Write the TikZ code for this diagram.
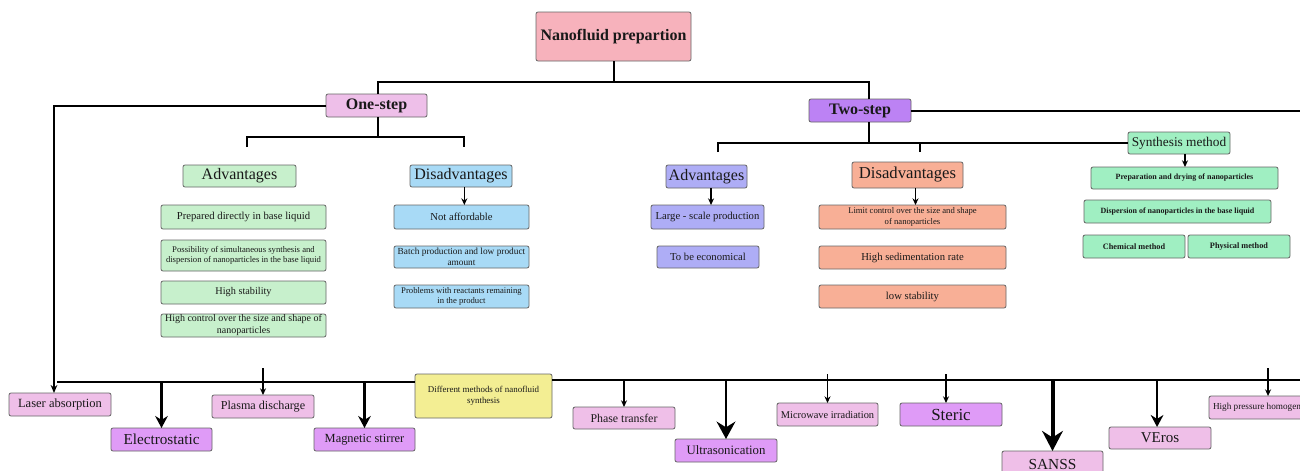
\documentclass[tikz,border=0pt]{standalone}
\usepackage{fontspec}
\setmainfont{Liberation Serif}
\usetikzlibrary{arrows.meta,calc}
\newcommand\fz[1]{\fontsize{#1}{\fpeval{#1*1.2}}\selectfont}
\newcommand\mybox[7]{\node[box,#6,minimum width={(#4-#2)*0.75pt},minimum height={(#5-#3)*0.75pt}] (#1) at ({(#2+#4)/2},{(#3+#5)/2}) {#7};}
\definecolor{titlec}{HTML}{F7B2BC}
\definecolor{onec}{HTML}{EEBFE9}
\definecolor{twoc}{HTML}{BC82F4}
\definecolor{gone}{HTML}{C7F0CC}
\definecolor{bone}{HTML}{A8DAF6}
\definecolor{ptwo}{HTML}{AEADF6}
\definecolor{otwo}{HTML}{F8AF96}
\definecolor{mint}{HTML}{A0EFC2}
\definecolor{yel}{HTML}{F3EE93}
\definecolor{lpink}{HTML}{EFBFE8}
\definecolor{dpink}{HTML}{DF9BF7}
\begin{document}
\begin{tikzpicture}[x=0.75pt,y=-0.75pt,
  box/.style={draw=black!60, line width=0.6pt, rounded corners=1.5pt, align=center, inner sep=0pt, outer sep=0pt, text=black!90},
  tree/.style={line width=1.5pt, black},
  base/.style={line width=2.2pt, black},
  thinarr/.style={line width=0.9pt, -{Stealth[length=5pt,width=4.5pt]}},
  midarr/.style={line width=1.8pt, -{Stealth[length=9pt,width=9.5pt]}},
  bigarr/.style={line width=2.2pt, -{Stealth[length=13pt,width=14pt]}},
  hugearr/.style={line width=3pt, -{Stealth[length=15pt,width=15.5pt]}}]
\fill[white] (0,0) rectangle (1300,471);
\useasboundingbox (0,0) rectangle (1300,471);
\clip (0,0) rectangle (1300,471);

% top level
\mybox{title}{536}{12}{691}{61}{fill=titlec,font=\fz{12}\bfseries}{Nanofluid prepartion}
\mybox{one}{326}{94}{427}{117}{fill=onec,font=\fz{12}\bfseries}{One-step}
\mybox{two}{809}{99}{911}{122}{fill=twoc,font=\fz{12}\bfseries}{Two-step}

% one-step branch
\mybox{adv1}{183}{165}{296}{187}{fill=gone,font=\fz{12}}{Advantages}
\mybox{dis1}{410}{165}{512}{187}{fill=bone,font=\fz{12}}{Disadvantages}
\mybox{a11}{161}{205}{326}{229}{fill=gone,font=\fz{8}}{Prepared directly in base liquid}
\mybox{a12}{161}{240}{326}{271}{fill=gone,font=\fz{6.5}}{Possibility of simultaneous synthesis and\\dispersion of nanoparticles in the base liquid}
\mybox{a13}{161}{281}{326}{304}{fill=gone,font=\fz{7.7}}{High stability}
\mybox{a14}{161}{314}{326}{337}{fill=gone,font=\fz{7.5}}{High control over the size and shape of\\nanoparticles}
\mybox{d11}{394}{205}{529}{229}{fill=bone,font=\fz{8}}{Not affordable}
\mybox{d12}{394}{246}{529}{268}{fill=bone,font=\fz{7}}{Batch production and low product\\amount}
\mybox{d13}{394}{285}{529}{308}{fill=bone,font=\fz{6.5}}{Problems with reactants remaining\\in the product}

% two-step branch
\mybox{adv2}{666}{165}{747}{188}{fill=ptwo,font=\fz{12}}{Advantages}
\mybox{a21}{651}{205}{764}{229}{fill=ptwo,font=\fz{8}}{Large - scale production}
\mybox{a22}{657}{246}{759}{268}{fill=ptwo,font=\fz{8}}{To be economical}
\mybox{dis2}{852}{162}{963}{188}{fill=otwo,font=\fz{12.5}}{Disadvantages}
\mybox{d21}{819}{205}{1006}{229}{fill=otwo,font=\fz{6.5}}{Limit control over the size and shape\\of nanoparticles}
\mybox{d22}{819}{246}{1006}{269}{fill=otwo,font=\fz{8}}{High sedimentation rate}
\mybox{d23}{819}{285}{1006}{308}{fill=otwo,font=\fz{8}}{low stability}
\mybox{syn}{1128}{132}{1230}{154}{fill=mint,font=\fz{10}}{Synthesis method}
\mybox{s1}{1091}{167}{1278}{189}{fill=mint,font=\fz{6}\bfseries}{Preparation and drying of nanoparticles}
\mybox{s2}{1084}{200}{1271}{223}{fill=mint,font=\fz{6}\bfseries}{Dispersion of nanoparticles in the base liquid}
\mybox{s3}{1083}{235}{1185}{258}{fill=mint,font=\fz{6.2}\bfseries}{Chemical method}
\mybox{s4}{1188}{235}{1290}{258}{fill=mint,font=\fz{6.2}\bfseries}{Physical method}

% bottom row
\mybox{diff}{415}{374}{552}{418}{fill=yel,font=\fz{6.7}}{Different methods of nanofluid\\synthesis}
\mybox{laser}{9}{393}{111}{416}{fill=lpink,font=\fz{9.4}}{Laser absorption}
\mybox{elec}{111}{428}{212}{451}{fill=dpink,font=\fz{11.4}}{Electrostatic}
\mybox{plasma}{212}{395}{314}{418}{fill=lpink,font=\fz{9.1}}{Plasma discharge}
\mybox{mag}{314}{428}{415}{451}{fill=dpink,font=\fz{9.3}}{Magnetic stirrer}
\mybox{phase}{573}{407}{675}{429}{fill=lpink,font=\fz{8.9}}{Phase transfer}
\mybox{ultra}{675}{439}{777}{462}{fill=dpink,font=\fz{9.6}}{Ultrasonication}
\mybox{micro}{777}{403}{878}{426}{fill=lpink,font=\fz{7.8}}{Microwave irradiation}
\mybox{steric}{900}{403}{1002}{426}{fill=dpink,font=\fz{12.7}}{Steric}
\mybox{sanss}{1002}{451}{1103}{478}{fill=lpink,font=\fz{11.5}}{SANSS}
\mybox{veros}{1109}{427}{1211}{449}{fill=lpink,font=\fz{11.3}}{VEros}
\mybox{hph}{1209}{396}{1330}{419}{fill=lpink,font=\fz{6.9}}{High pressure homogenization}

% top connectors
\coordinate (tm) at (613.5,82);
\draw[tree] (title.south) -- (tm);
\draw[tree] ([xshift=1.1pt]one.north) |- (tm);
\draw[tree] ([xshift=6.75pt]two.north) |- (tm);
\draw[tree, -{Stealth[length=6pt,width=5pt]}] (one.west) -| ([xshift=-4.5pt]laser.north);
\coordinate (e2) at (1310,110.5);
\draw[tree] (two.east) -- (e2);

% one-step tree
\coordinate (oj) at (377.5,137);
\coordinate (oa) at (247,147);
\coordinate (od) at (464,147);
\draw[tree] ([xshift=0.75pt]one.south) -- ([xshift=0.75pt]one.south |- oj);
\draw[tree] (oa) -- ++(0,-10) -| (od);
\draw[thinarr] ([xshift=2.5pt]dis1.south) -- ([xshift=2.5pt]dis1.south |- d11.north);

% two-step tree
\coordinate (tj) at (869,143);
\coordinate (ta) at (718,152);
\coordinate (td) at (920,152);
\draw[tree] ([xshift=6.75pt]two.south) -- (tj);
\draw[tree] (ta) -- ++(0,-9) -- (tj);
\draw[tree, line width=2.2pt] (tj) -- (syn.west);
\draw[tree] (td) -- (td |- tj);
\draw[thinarr] ([xshift=3.4pt]adv2.south) -- ([xshift=3.4pt]adv2.south |- a21.north);
\draw[thinarr] ([xshift=6pt]dis2.south) -- ([xshift=6pt]dis2.south |- d21.north);
\draw[thinarr] ([xshift=4.5pt]syn.south) -- ([xshift=4.5pt]syn.south |- s1.north);

% bottom line
\coordinate (bl) at (57,382);
\coordinate (br) at (1310,380);
\draw[base] (bl) -- ([yshift=10.5pt]diff.west);
\draw[base] ([yshift=12pt]diff.east) -- (br);

\draw[midarr] (elec.north |- bl) -- (elec.north);
\draw[midarr] (mag.north |- bl) -- (mag.north);
\draw[thinarr] (phase.north |- br) -- (phase.north);
\draw[bigarr] (ultra.north |- br) -- (ultra.north);
\draw[hugearr] (sanss.north |- br) -- (sanss.north);
\draw[midarr] ([xshift=-2.2pt]veros.north |- br) -- ([xshift=-2.2pt]veros.north);
\draw[thinarr] ([yshift=20.25pt]plasma.north) -- (plasma.north);
\draw[thinarr] ([yshift=21.75pt]micro.north) -- (micro.north);
\draw[thinarr] ([xshift=-3.75pt,yshift=21.75pt]steric.north) -- ([xshift=-3.75pt]steric.north);
\draw[thinarr] ([xshift=-1.1pt,yshift=21pt]hph.north) -- ([xshift=-1.1pt]hph.north);
\end{tikzpicture}
\end{document}
